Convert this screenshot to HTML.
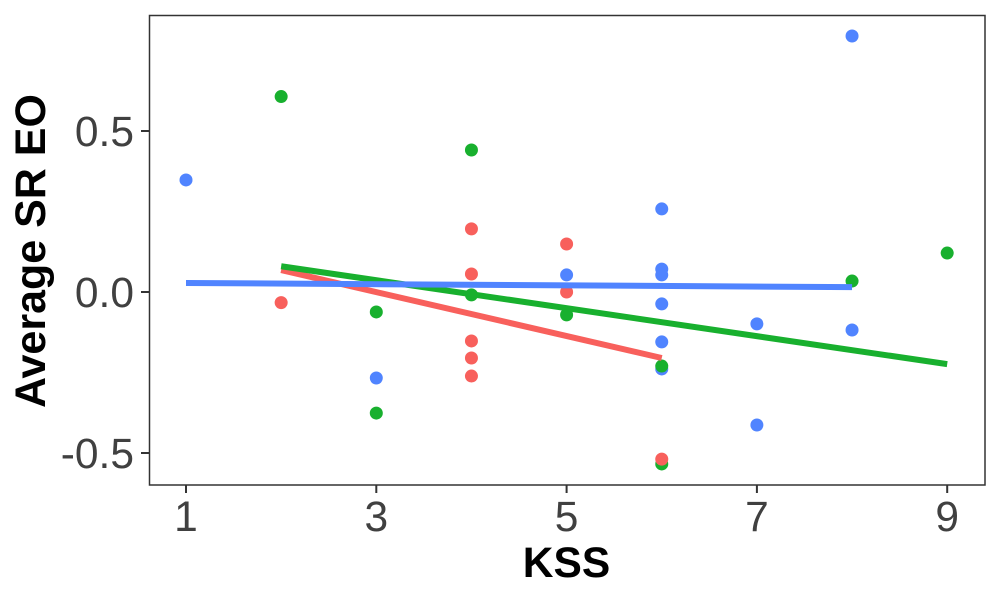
<!DOCTYPE html>
<html>
<head>
<meta charset="utf-8">
<title>Average SR EO vs KSS</title>
<style>
html,body{margin:0;padding:0;background:#fff;}
svg{display:block;font-family:"Liberation Sans",Arial,sans-serif;}
</style>
</head>
<body>
<svg id="chart" xmlns="http://www.w3.org/2000/svg" width="1000" height="600" viewBox="0 0 1000 600"></svg>
<script>
const xTickValues = [1, 3, 5, 7, 9];
const yTickValues = [-0.5, 0, 0.5];
const yTickLabels = ['-0.5', '0.0', '0.5'];

const blueX = [1, 3, 5, 6, 6, 6, 6, 6, 6, 7, 7, 8, 8];
const blueY = [0.348, -0.267, 0.053, 0.258, 0.071, 0.053, -0.037, -0.155, -0.239, -0.099, -0.413, 0.795, -0.118];
const greenX = [2, 3, 3, 4, 4, 5, 6, 6, 8, 9];
const greenY = [0.607, -0.062, -0.376, 0.441, -0.009, -0.071, -0.23, -0.534, 0.034, 0.121];
const redX = [2, 4, 4, 4, 4, 4, 5, 5, 6];
const redY = [-0.033, 0.196, 0.056, -0.152, -0.205, -0.261, 0.149, 0.0, -0.519];

const redLineX = [2, 6];
const redLineY = [0.068, -0.205];
const greenLineX = [2, 9];
const greenLineY = [0.08, -0.224];
const blueLineX = [1, 8];
const blueLineY = [0.028, 0.015];

const svg = document.getElementById('chart');
const NS = 'http://www.w3.org/2000/svg';
function xScale(v) { return 186 + (v - 1) * 95.15; }
function yScale(v) { return 292 - v * 322; }
function make(tag, attrs, parent) {
  const el = document.createElementNS(NS, tag);
  for (const k in attrs) el.setAttribute(k, attrs[k]);
  (parent || svg).appendChild(el);
  return el;
}

const background = make('rect', {x: 149.5, y: 15.5, width: 835.5, height: 469.5, fill: '#ffffff'});



function drawPoints(xs, ys, color, label) {
  const g = make('g', {fill: color});
  
  
  xs.forEach(function (x, i) {
    const c = make('circle', {cx: xScale(x), cy: yScale(ys[i]), r: 6.5}, g);
    
    
  });
}
drawPoints(blueX, blueY, '#5084FF', 'blue');
drawPoints(greenX, greenY, '#18B02E', 'green');
drawPoints(redX, redY, '#F8605C', 'red');

function drawLine(xs, ys, color, label) {
  const l = make('line', {x1: xScale(xs[0]), y1: yScale(ys[0]), x2: xScale(xs[1]), y2: yScale(ys[1]), stroke: color, 'stroke-width': 6});
  
  
}
drawLine(redLineX, redLineY, '#F8605C', 'red');
drawLine(greenLineX, greenLineY, '#18B02E', 'green');
drawLine(blueLineX, blueLineY, '#5084FF', 'blue');

const border = make('rect', {x: 149.5, y: 15.5, width: 835.5, height: 469.5, fill: 'none', stroke: '#333333', 'stroke-width': 1.5});



xTickValues.forEach(function (v) {
  const x = xScale(v);
  const tick = make('line', {x1: x, y1: 485, x2: x, y2: 493, stroke: '#333333', 'stroke-width': 2});
  
  
  const t = make('text', {x: x, y: 531, 'text-anchor': 'middle', 'font-size': 42.5, fill: '#404040'});
  t.textContent = String(v);
  
  
});

yTickValues.forEach(function (v, i) {
  const y = yScale(v);
  const tick = make('line', {x1: 141, y1: y, x2: 149, y2: y, stroke: '#333333', 'stroke-width': 2});
  
  
  const t = make('text', {x: 134, y: y + 15, 'text-anchor': 'end', 'font-size': 42.5, fill: '#404040'});
  t.textContent = yTickLabels[i];
  
  
});

const xTitle = make('text', {x: 566.5, y: 577, 'text-anchor': 'middle', 'font-size': 42.5, 'font-weight': 'bold', fill: '#000000'});
xTitle.textContent = 'KSS';



const yTitle = make('text', {transform: 'translate(45,251) rotate(-90)', 'text-anchor': 'middle', 'font-size': 43, 'font-weight': 'bold', fill: '#000000'});
yTitle.textContent = 'Average SR EO';


</script>
</body>
</html>
